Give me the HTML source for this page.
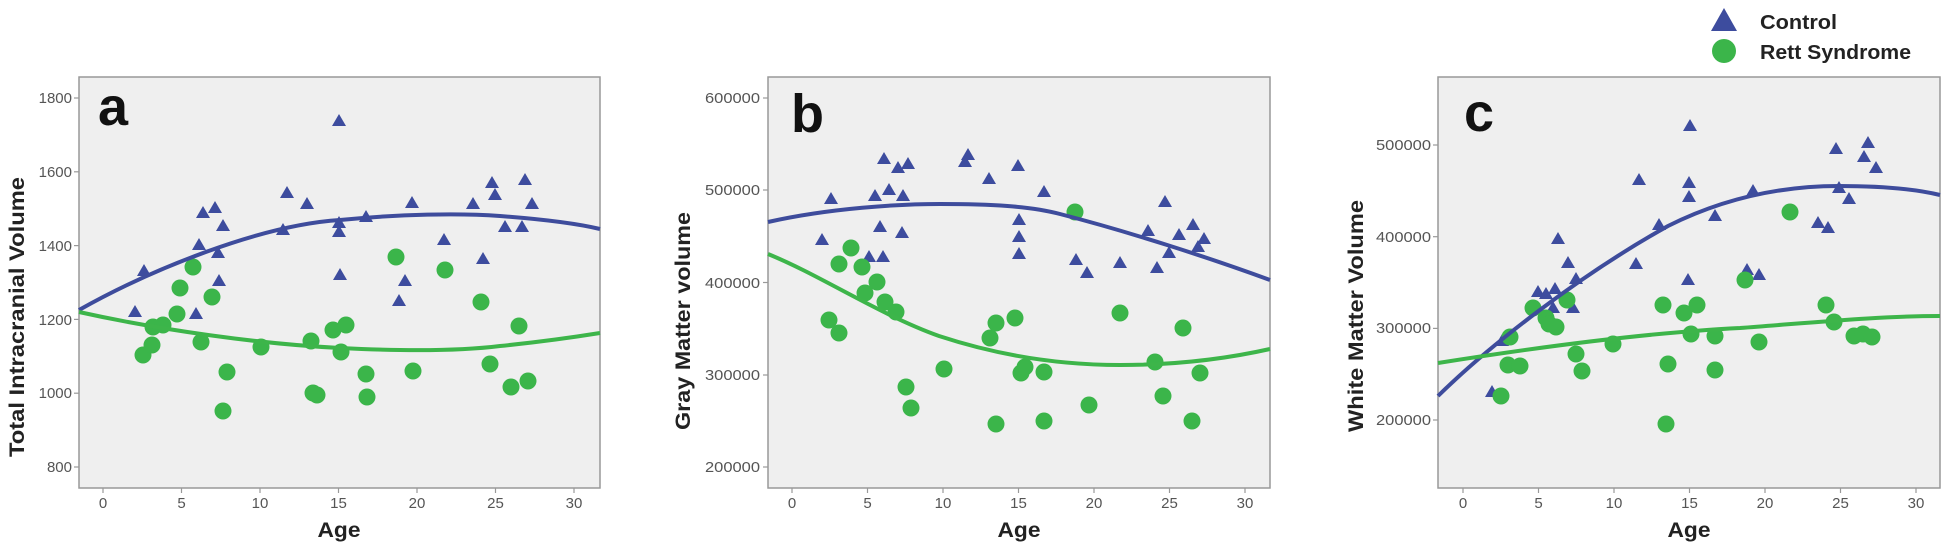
<!DOCTYPE html>
<html><head><meta charset="utf-8"><style>
html,body{margin:0;padding:0;background:#fff;}
svg{display:block;font-family:"Liberation Sans",sans-serif;}
.tl{font-size:15px;fill:#555;}
.ttl{font-size:21px;font-weight:bold;fill:#222;}
.let{font-size:54px;font-weight:bold;fill:#111;}
.box{fill:#efefef;stroke:#999;stroke-width:1.5;}
.tk{stroke:#999;stroke-width:1.2;}
.bl{fill:none;stroke:#3e4c9c;stroke-width:4;stroke-linejoin:round;}
.gl{fill:none;stroke:#3db54a;stroke-width:4;stroke-linejoin:round;}
</style></head><body>
<svg width="1944" height="544" viewBox="0 0 1944 544" xmlns="http://www.w3.org/2000/svg">
<defs>
<polygon id="t" points="0,-7 7,5 -7,5" fill="#3d4c9e"/>
<circle id="g" r="8.5" fill="#3bb54a"/>
</defs>

<!-- legend -->
<polygon points="1724,8 1737,31 1711,31" fill="#3d4c9e"/>
<text x="1760" y="29" style="font-size:20px;font-weight:bold;fill:#222" textLength="77" lengthAdjust="spacingAndGlyphs">Control</text>
<circle cx="1724" cy="51" r="12" fill="#3bb54a"/>
<text x="1760" y="59" style="font-size:20px;font-weight:bold;fill:#222" textLength="151" lengthAdjust="spacingAndGlyphs">Rett Syndrome</text>

<!-- ===== Panel a ===== -->
<rect class="box" x="79" y="77" width="521" height="411"/>
<g class="tk">
<line x1="74" y1="98" x2="79" y2="98"/><line x1="74" y1="171.8" x2="79" y2="171.8"/><line x1="74" y1="245.6" x2="79" y2="245.6"/><line x1="74" y1="319.4" x2="79" y2="319.4"/><line x1="74" y1="393.2" x2="79" y2="393.2"/><line x1="74" y1="467" x2="79" y2="467"/>
<line x1="103" y1="488" x2="103" y2="493"/><line x1="181.5" y1="488" x2="181.5" y2="493"/><line x1="260" y1="488" x2="260" y2="493"/><line x1="338.5" y1="488" x2="338.5" y2="493"/><line x1="417" y1="488" x2="417" y2="493"/><line x1="495.5" y1="488" x2="495.5" y2="493"/><line x1="574" y1="488" x2="574" y2="493"/>
</g>
<g class="tl" text-anchor="end">
<text x="72" y="103">1800</text><text x="72" y="177">1600</text><text x="72" y="251">1400</text><text x="72" y="325">1200</text><text x="72" y="398">1000</text><text x="72" y="472">800</text>
</g>
<g class="tl" text-anchor="middle">
<text x="103" y="508">0</text><text x="181.5" y="508">5</text><text x="260" y="508">10</text><text x="338.5" y="508">15</text><text x="417" y="508">20</text><text x="495.5" y="508">25</text><text x="574" y="508">30</text>
</g>
<text class="ttl" x="339" y="537" text-anchor="middle" textLength="43" lengthAdjust="spacingAndGlyphs">Age</text>
<text class="ttl" transform="translate(24,317) rotate(-90)" text-anchor="middle" textLength="280" lengthAdjust="spacingAndGlyphs">Total Intracranial Volume</text>
<text class="let" x="98" y="125">a</text>
<g>
<use href="#t" x="135" y="312"/><use href="#t" x="144" y="271"/><use href="#t" x="196" y="314"/><use href="#t" x="199" y="245"/><use href="#t" x="203" y="213"/><use href="#t" x="215" y="208"/><use href="#t" x="218" y="253"/><use href="#t" x="219" y="281"/><use href="#t" x="223" y="226"/><use href="#t" x="283" y="230"/><use href="#t" x="287" y="193"/><use href="#t" x="307" y="204"/><use href="#t" x="339" y="121"/><use href="#t" x="339" y="223"/><use href="#t" x="339" y="232"/><use href="#t" x="340" y="275"/><use href="#t" x="366" y="217"/><use href="#t" x="412" y="203"/><use href="#t" x="399" y="301"/><use href="#t" x="405" y="281"/><use href="#t" x="444" y="240"/><use href="#t" x="473" y="204"/><use href="#t" x="483" y="259"/><use href="#t" x="492" y="183"/><use href="#t" x="495" y="195"/><use href="#t" x="525" y="180"/><use href="#t" x="532" y="204"/><use href="#t" x="505" y="227"/><use href="#t" x="522" y="227"/>
</g>
<g>
<use href="#g" x="143" y="355"/><use href="#g" x="152" y="345"/><use href="#g" x="153" y="327"/><use href="#g" x="163" y="325"/><use href="#g" x="177" y="314"/><use href="#g" x="180" y="288"/><use href="#g" x="193" y="267"/><use href="#g" x="201" y="342"/><use href="#g" x="212" y="297"/><use href="#g" x="227" y="372"/><use href="#g" x="223" y="411"/><use href="#g" x="261" y="347"/><use href="#g" x="311" y="341"/><use href="#g" x="317" y="395"/><use href="#g" x="313" y="393"/><use href="#g" x="333" y="330"/><use href="#g" x="346" y="325"/><use href="#g" x="341" y="352"/><use href="#g" x="366" y="374"/><use href="#g" x="367" y="397"/><use href="#g" x="396" y="257"/><use href="#g" x="413" y="371"/><use href="#g" x="445" y="270"/><use href="#g" x="481" y="302"/><use href="#g" x="519" y="326"/><use href="#g" x="490" y="364"/><use href="#g" x="511" y="387"/><use href="#g" x="528" y="381"/>
</g>
<path class="bl" d="M79,310 C150,270 260,225 340,220 C400,214 460,213 500,216 C540,219 575,223 600,229"/>
<path class="gl" d="M79,312 C160,330 260,344 340,348 C400,351 460,351 500,346 C540,342 575,337 600,333"/>

<!-- ===== Panel b ===== -->
<rect class="box" x="768" y="77" width="502" height="411"/>
<g class="tk">
<line x1="763" y1="98" x2="768" y2="98"/><line x1="763" y1="190" x2="768" y2="190"/><line x1="763" y1="282.5" x2="768" y2="282.5"/><line x1="763" y1="375" x2="768" y2="375"/><line x1="763" y1="467" x2="768" y2="467"/>
<line x1="792" y1="488" x2="792" y2="493"/><line x1="867.5" y1="488" x2="867.5" y2="493"/><line x1="943" y1="488" x2="943" y2="493"/><line x1="1018.5" y1="488" x2="1018.5" y2="493"/><line x1="1094" y1="488" x2="1094" y2="493"/><line x1="1169.5" y1="488" x2="1169.5" y2="493"/><line x1="1245" y1="488" x2="1245" y2="493"/>
</g>
<g class="tl" text-anchor="end">
<text x="760" y="103" textLength="55" lengthAdjust="spacingAndGlyphs">600000</text><text x="760" y="195" textLength="55" lengthAdjust="spacingAndGlyphs">500000</text><text x="760" y="288" textLength="55" lengthAdjust="spacingAndGlyphs">400000</text><text x="760" y="380" textLength="55" lengthAdjust="spacingAndGlyphs">300000</text><text x="760" y="472" textLength="55" lengthAdjust="spacingAndGlyphs">200000</text>
</g>
<g class="tl" text-anchor="middle">
<text x="792" y="508">0</text><text x="867.5" y="508">5</text><text x="943" y="508">10</text><text x="1018.5" y="508">15</text><text x="1094" y="508">20</text><text x="1169.5" y="508">25</text><text x="1245" y="508">30</text>
</g>
<text class="ttl" x="1019" y="537" text-anchor="middle" textLength="43" lengthAdjust="spacingAndGlyphs">Age</text>
<text class="ttl" transform="translate(690,321) rotate(-90)" text-anchor="middle" textLength="218" lengthAdjust="spacingAndGlyphs">Gray Matter volume</text>
<text class="let" x="791" y="132">b</text>
<g>
<use href="#t" x="822" y="240"/><use href="#t" x="831" y="199"/><use href="#t" x="869" y="257"/><use href="#t" x="875" y="196"/><use href="#t" x="880" y="227"/><use href="#t" x="883" y="257"/><use href="#t" x="884" y="159"/><use href="#t" x="889" y="190"/><use href="#t" x="898" y="168"/><use href="#t" x="903" y="196"/><use href="#t" x="902" y="233"/><use href="#t" x="908" y="164"/><use href="#t" x="965" y="162"/><use href="#t" x="968" y="155"/><use href="#t" x="989" y="179"/><use href="#t" x="1018" y="166"/><use href="#t" x="1019" y="220"/><use href="#t" x="1019" y="237"/><use href="#t" x="1019" y="254"/><use href="#t" x="1044" y="192"/><use href="#t" x="1076" y="260"/><use href="#t" x="1087" y="273"/><use href="#t" x="1120" y="263"/><use href="#t" x="1148" y="231"/><use href="#t" x="1165" y="202"/><use href="#t" x="1157" y="268"/><use href="#t" x="1169" y="253"/><use href="#t" x="1179" y="235"/><use href="#t" x="1193" y="225"/><use href="#t" x="1204" y="239"/><use href="#t" x="1198" y="247"/>
</g>
<g>
<use href="#g" x="829" y="320"/><use href="#g" x="839" y="333"/><use href="#g" x="839" y="264"/><use href="#g" x="851" y="248"/><use href="#g" x="862" y="267"/><use href="#g" x="877" y="282"/><use href="#g" x="865" y="293"/><use href="#g" x="885" y="302"/><use href="#g" x="896" y="312"/><use href="#g" x="906" y="387"/><use href="#g" x="911" y="408"/><use href="#g" x="944" y="369"/><use href="#g" x="990" y="338"/><use href="#g" x="996" y="323"/><use href="#g" x="1015" y="318"/><use href="#g" x="996" y="424"/><use href="#g" x="1021" y="373"/><use href="#g" x="1025" y="367"/><use href="#g" x="1044" y="372"/><use href="#g" x="1044" y="421"/><use href="#g" x="1075" y="212"/><use href="#g" x="1120" y="313"/><use href="#g" x="1183" y="328"/><use href="#g" x="1155" y="362"/><use href="#g" x="1200" y="373"/><use href="#g" x="1089" y="405"/><use href="#g" x="1163" y="396"/><use href="#g" x="1192" y="421"/>
</g>
<path class="bl" d="M768,222 C830,208 900,204 940,204 C990,204 1030,206 1060,214 C1130,232 1210,258 1270,280"/>
<path class="gl" d="M768,254 C820,275 880,315 939,336 C1000,356 1060,365 1120,365 C1180,365 1230,358 1270,349"/>

<!-- ===== Panel c ===== -->
<rect class="box" x="1438" y="77" width="502" height="411"/>
<g class="tk">
<line x1="1433" y1="145" x2="1438" y2="145"/><line x1="1433" y1="236.7" x2="1438" y2="236.7"/><line x1="1433" y1="328.4" x2="1438" y2="328.4"/><line x1="1433" y1="420" x2="1438" y2="420"/>
<line x1="1463" y1="488" x2="1463" y2="493"/><line x1="1538.5" y1="488" x2="1538.5" y2="493"/><line x1="1614" y1="488" x2="1614" y2="493"/><line x1="1689.5" y1="488" x2="1689.5" y2="493"/><line x1="1765" y1="488" x2="1765" y2="493"/><line x1="1840.5" y1="488" x2="1840.5" y2="493"/><line x1="1916" y1="488" x2="1916" y2="493"/>
</g>
<g class="tl" text-anchor="end">
<text x="1431" y="150" textLength="55" lengthAdjust="spacingAndGlyphs">500000</text><text x="1431" y="242" textLength="55" lengthAdjust="spacingAndGlyphs">400000</text><text x="1431" y="333" textLength="55" lengthAdjust="spacingAndGlyphs">300000</text><text x="1431" y="425" textLength="55" lengthAdjust="spacingAndGlyphs">200000</text>
</g>
<g class="tl" text-anchor="middle">
<text x="1463" y="508">0</text><text x="1538.5" y="508">5</text><text x="1614" y="508">10</text><text x="1689.5" y="508">15</text><text x="1765" y="508">20</text><text x="1840.5" y="508">25</text><text x="1916" y="508">30</text>
</g>
<text class="ttl" x="1689" y="537" text-anchor="middle" textLength="43" lengthAdjust="spacingAndGlyphs">Age</text>
<text class="ttl" transform="translate(1363,316) rotate(-90)" text-anchor="middle" textLength="232" lengthAdjust="spacingAndGlyphs">White Matter Volume</text>
<text class="let" x="1464" y="131">c</text>
<g>
<use href="#t" x="1690" y="126"/><use href="#t" x="1836" y="149"/><use href="#t" x="1868" y="143"/><use href="#t" x="1864" y="157"/><use href="#t" x="1876" y="168"/><use href="#t" x="1639" y="180"/><use href="#t" x="1689" y="183"/><use href="#t" x="1689" y="197"/><use href="#t" x="1753" y="191"/><use href="#t" x="1839" y="188"/><use href="#t" x="1849" y="199"/><use href="#t" x="1715" y="216"/><use href="#t" x="1659" y="225"/><use href="#t" x="1818" y="223"/><use href="#t" x="1828" y="228"/><use href="#t" x="1558" y="239"/><use href="#t" x="1568" y="263"/><use href="#t" x="1636" y="264"/><use href="#t" x="1576" y="279"/><use href="#t" x="1747" y="270"/><use href="#t" x="1759" y="275"/><use href="#t" x="1688" y="280"/><use href="#t" x="1538" y="292"/><use href="#t" x="1546" y="294"/><use href="#t" x="1555" y="289"/><use href="#t" x="1553" y="308"/><use href="#t" x="1573" y="308"/><use href="#t" x="1492" y="392"/><use href="#t" x="1502" y="341"/>
</g>
<g>
<use href="#g" x="1790" y="212"/><use href="#g" x="1745" y="280"/><use href="#g" x="1567" y="300"/><use href="#g" x="1533" y="308"/><use href="#g" x="1546" y="318"/><use href="#g" x="1549" y="324"/><use href="#g" x="1556" y="327"/><use href="#g" x="1663" y="305"/><use href="#g" x="1684" y="313"/><use href="#g" x="1697" y="305"/><use href="#g" x="1826" y="305"/><use href="#g" x="1834" y="322"/><use href="#g" x="1691" y="334"/><use href="#g" x="1715" y="336"/><use href="#g" x="1759" y="342"/><use href="#g" x="1854" y="336"/><use href="#g" x="1863" y="334"/><use href="#g" x="1872" y="337"/><use href="#g" x="1510" y="337"/><use href="#g" x="1613" y="344"/><use href="#g" x="1576" y="354"/><use href="#g" x="1582" y="371"/><use href="#g" x="1508" y="365"/><use href="#g" x="1520" y="366"/><use href="#g" x="1668" y="364"/><use href="#g" x="1715" y="370"/><use href="#g" x="1501" y="396"/><use href="#g" x="1666" y="424"/>
</g>
<path class="bl" d="M1438,396 C1490,345 1580,275 1668,226 C1730,195 1790,186 1839,186 C1880,186 1915,189 1940,195"/>
<path class="gl" d="M1438,363 C1520,350 1640,333 1740,328 C1820,322 1880,316 1940,316"/>
</svg>
</body></html>
